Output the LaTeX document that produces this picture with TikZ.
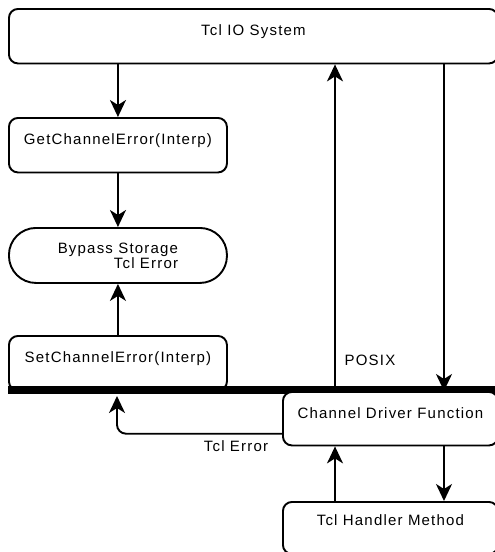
\documentclass[tikz,border=0pt]{standalone}
\usepackage{fontspec}
\setmainfont{Liberation Sans}[LetterSpace=8]
\usetikzlibrary{arrows.meta,calc}
\begin{document}
\begin{tikzpicture}[x=1pt,y=-1pt,
  font=\fontsize{15}{15}\selectfont,
  box/.style={draw,line width=1.9pt,fill=white,rounded corners=9pt,inner sep=0pt,
    text height=26.5pt,text depth=28pt,align=center},
  stad/.style={draw,line width=1.9pt,fill=white,rounded corners=27pt,inner sep=0pt,
    minimum width=218pt,minimum height=55pt,align=right},
  arr/.style={line width=1.9pt,-{Stealth[length=17pt,width=16pt,inset=5pt]}},
  lbl/.style={inner sep=0pt}]
\useasboundingbox (0,0) rectangle (495,552);
\node[box,minimum width=489pt,anchor=north west] (io) at (8,8) {Tcl IO System};
\node[box,minimum width=218pt,anchor=north west] (get) at (8,117) {GetChannelError(Interp)};
\node[stad,anchor=north west] (byp) at (8,227) {Bypass Storage\\Tcl Error};
\node[box,minimum width=218pt,anchor=north west] (set) at (8,335) {SetChannelError(Interp)};
\fill (8,386) rectangle (497,394);
\node[box,minimum width=215pt,anchor=north west,text depth=27pt] (cdf) at (282,391) {Channel Driver Function};
\node[box,minimum width=215pt,anchor=north west,text height=24pt] (tcl) at (282,501) {Tcl Handler Method};
\node[lbl] (posix) at (370,360) {POSIX};
\node[lbl] (tclerr) at (236,446) {Tcl Error};
\coordinate (xa) at (335,0);
\coordinate (xb) at (444,0);
\coordinate (seti) at (117,396);
\draw[arr] (io.south -| get.north) -- (get.north);
\draw[arr] (get.south) -- (byp.north);
\draw[arr] (set.north) -- (byp.south);
\draw[arr] (xa |- cdf.north) -- (xa |- io.south);
\draw[arr] (xb |- io.south) -- (xb |- cdf.north);
\draw[arr] (xa |- tcl.north) -- (xa |- cdf.south);
\draw[arr] (xb |- cdf.south) -- (xb |- tcl.north);
\draw[arr,rounded corners=9pt] ($(cdf.west)+(0,15)$) -| (seti);
\end{tikzpicture}
\end{document}
